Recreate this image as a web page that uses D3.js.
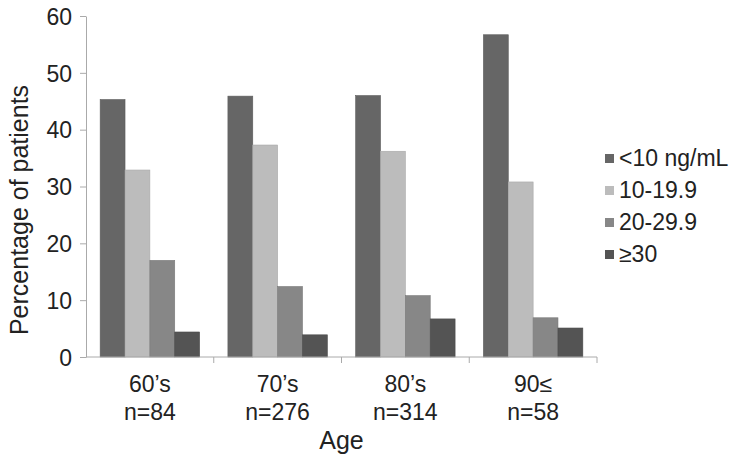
<!DOCTYPE html>
<html>
<head>
<meta charset="utf-8">
<script src="https://cdnjs.cloudflare.com/ajax/libs/d3/7.8.5/d3.min.js"></script>
<style>
	body { margin: 0; background: #fff; }
	svg { font-family: "Liberation Sans", Arial, sans-serif; }
</style>
</head>
<body>
<div id="chart"></div>
<script>
// Data
var ageGroups =	["60\u2019s", "70\u2019s", "80\u2019s", "90\u2264"];
var groupSizes =	["n=84", "n=276", "n=314", "n=58"];
var seriesNames =	["<10 ng/mL", "10-19.9", "20-29.9", "\u226530"];
var seriesColors =	["#666666", "#bcbcbc", "#878787", "#545454"];
var below10 =	[45.3, 45.9, 46.0, 56.7];
var from10to20 =	[32.9, 37.3, 36.2, 30.8];
var from20to30 =	[17.0, 12.4, 10.8, 6.9];
var over30 =	[4.4, 3.9, 6.7, 5.1];
var yTicks =	[0, 10, 20, 30, 40, 50, 60];

var series = [below10, from10to20, from20to30, over30];

// Layout
var width = 737, height = 465;
var margin = { left: 86, right: 140, top: 16, bottom: 108 };

var svg = d3.select("#chart").append("svg")
	.attr("width", width)
	.attr("height", height);

var x0 = d3.scaleBand()
	.domain(ageGroups)
	.range([margin.left, 597])
	.paddingInner(0)
	.paddingOuter(0);

// bars fill ~78% of each group
var x1 = d3.scaleBand()
	.domain(d3.range(series.length))
	.range([0, x0.bandwidth()])
	.paddingInner(0)
	.paddingOuter(0.57);

var y = d3.scaleLinear()
	.domain([0, 60])
	.range([height - margin.bottom, margin.top]);

// Bars
ageGroups.forEach(function(group, gi) {
	var g = svg.append("g")
		.attr("transform", "translate(" + x0(group) + ",0)");
	series.forEach(function(values, si) {
		g.append("rect")
			.attr("x", x1(si))
			.attr("y", y(values[gi]))
			.attr("width", x1.bandwidth())
			.attr("height", y(0) - y(values[gi]))
			.style("fill", seriesColors[si])
			.style("stroke", d3.color(seriesColors[si]).darker(0.3))
			.style("stroke-width", 0.6);
	});
});

// Y axis
var yAxis = svg.append("g")
	.attr("transform", "translate(" + margin.left + ",0)")
	.call(d3.axisLeft(y).tickValues(yTicks).tickSize(6).tickPadding(8).tickSizeOuter(0));
yAxis.select(".domain").attr("stroke", "#aaa");
yAxis.selectAll(".tick line").attr("stroke", "#aaa");
yAxis.selectAll(".tick text")
	.style("font-size", "23px")
	.attr("fill", "#222")
	.attr("dy", "0.36em");

// X axis (ticks on category boundaries)
var xAxis = svg.append("g")
	.attr("transform", "translate(0," + y(0) + ")");
xAxis.append("line")
	.attr("x1", x0.range()[0]).attr("x2", x0.range()[1])
	.attr("stroke", "#aaa");
ageGroups.forEach(function(group) {
	xAxis.append("line")
		.attr("x1", x0(group) + x0.bandwidth()).attr("x2", x0(group) + x0.bandwidth())
		.attr("y1", 0).attr("y2", 6)
		.attr("stroke", "#aaa");
});
ageGroups.forEach(function(group, gi) {
	var cx = x0(group) + x0.bandwidth() / 2;
	xAxis.append("text")
		.attr("x", cx).attr("y", 35)
		.attr("text-anchor", "middle")
		.style("font-size", "23px")
		.attr("fill", "#222")
		.text(group);
	xAxis.append("text")
		.attr("x", cx).attr("y", 63)
		.attr("text-anchor", "middle")
		.style("font-size", "23px")
		.attr("fill", "#222")
		.text(groupSizes[gi]);
});

// Axis titles
svg.append("text")
	.attr("x", (x0.range()[0] + x0.range()[1]) / 2)
	.attr("y", 449)
	.attr("text-anchor", "middle")
	.style("font-size", "25px")
	.attr("fill", "#222")
	.text("Age");
svg.append("text")
	.attr("transform", "translate(28," + 210 + ") rotate(-90)")
	.attr("text-anchor", "middle")
	.style("font-size", "25px")
	.attr("fill", "#222")
	.text("Percentage of patients");

// Legend
var legend = svg.append("g")
	.attr("transform", "translate(605,166)");
seriesNames.forEach(function(name, i) {
	var row = legend.append("g")
		.attr("transform", "translate(0," + (i * 32) + ")");
	row.append("rect")
		.attr("x", 0).attr("y", -12)
		.attr("width", 9).attr("height", 9)
		.style("fill", seriesColors[i]);
	row.append("text")
		.attr("x", 14).attr("y", 0)
		.style("font-size", "23px")
		.attr("fill", "#222")
		.text(name);
});
</script>
</body>
</html>
